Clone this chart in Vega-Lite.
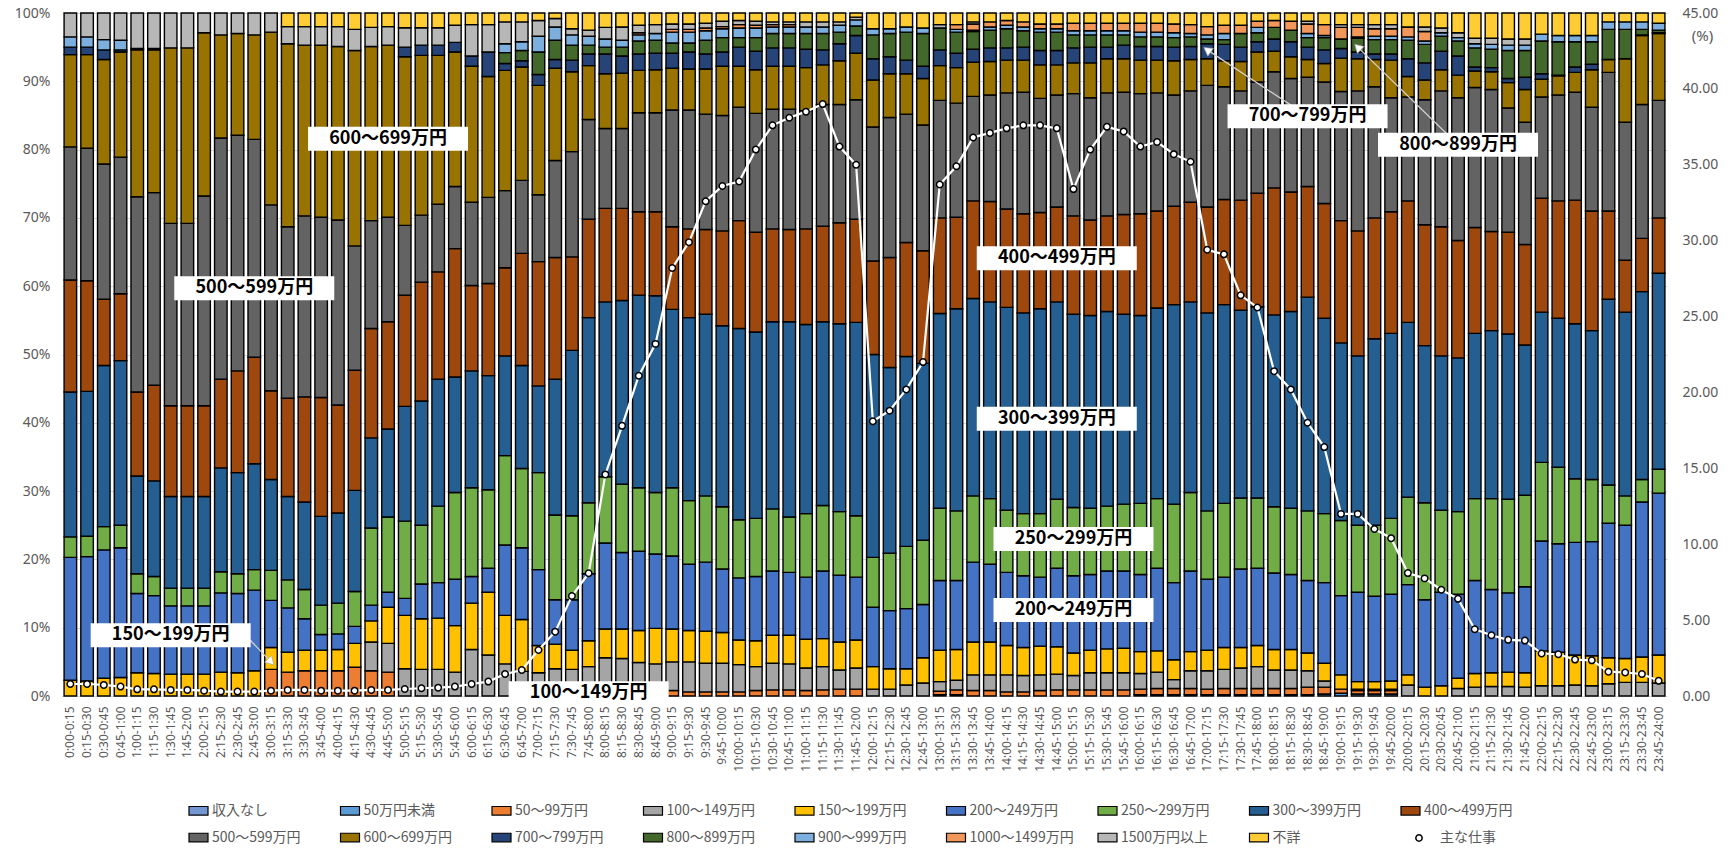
{
"$schema": "https://vega.github.io/schema/vega-lite/v6.json",
"autosize": "none",
"width": 1605,
"height": 683,
"padding": {"left": 62, "top": 13, "right": 63, "bottom": 152},
"background": "#ffffff",
"config": {"view": {"stroke": null}, "font": "Noto Sans"},
"datasets": {
"d": [
{"t":"0:00-0:15","m":0.79,"150～199万円":2.3,"200～249万円":18.0,"250～299万円":3.0,"300～399万円":21.2,"400～499万円":16.4,"500～599万円":19.5,"600～699万円":13.5,"700～799万円":1.1,"900～999万円":1.5,"1500万円以上":3.5},
{"t":"0:15-0:30","m":0.79,"150～199万円":2.2,"200～249万円":18.2,"250～299万円":3.0,"300～399万円":21.2,"400～499万円":16.2,"500～599万円":19.4,"600～699万円":13.7,"700～799万円":1.1,"900～999万円":1.5,"1500万円以上":3.5},
{"t":"0:30-0:45","m":0.73,"150～199万円":2.6,"200～249万円":18.8,"250～299万円":3.4,"300～399万円":23.6,"400～499万円":9.7,"500～599万円":19.8,"600～699万円":15.3,"700～799万円":1.4,"900～999万円":1.5,"1500万円以上":3.9},
{"t":"0:45-1:00","m":0.62,"150～199万円":2.7,"200～249万円":19.0,"250～299万円":3.3,"300～399万円":24.1,"400～499万円":9.8,"500～599万円":20.0,"600～699万円":15.4,"700～799万円":0.3,"900～999万円":1.4,"1500万円以上":4.0},
{"t":"1:00-1:15","m":0.44,"150～199万円":3.4,"200～249万円":11.6,"250～299万円":2.9,"300～399万円":14.3,"400～499万円":12.3,"500～599万円":28.6,"600～699万円":21.5,"700～799万円":0.2,"1500万円以上":5.2},
{"t":"1:15-1:30","m":0.44,"150～199万円":3.3,"200～249万円":11.4,"250～299万円":2.8,"300～399万円":14.0,"400～499万円":14.0,"500～599万円":28.2,"600～699万円":20.9,"700～799万円":0.2,"1500万円以上":5.2},
{"t":"1:30-1:45","m":0.40,"150～199万円":3.2,"200～249万円":10.0,"250～299万円":2.6,"300～399万円":13.4,"400～499万円":13.3,"500～599万円":26.7,"600～699万円":25.7,"1500万円以上":5.1},
{"t":"1:45-2:00","m":0.40,"150～199万円":3.2,"200～249万円":10.0,"250～299万円":2.6,"300～399万円":13.4,"400～499万円":13.3,"500～599万円":26.7,"600～699万円":25.7,"1500万円以上":5.1},
{"t":"2:00-2:15","m":0.35,"150～199万円":3.2,"200～249万円":10.0,"250～299万円":2.6,"300～399万円":13.4,"400～499万円":13.3,"500～599万円":30.7,"600～699万円":23.9,"1500万円以上":2.9},
{"t":"2:15-2:30","m":0.29,"150～199万円":3.5,"200～249万円":11.6,"250～299万円":3.1,"300～399万円":15.2,"400～499万円":13.0,"500～599万円":35.3,"600～699万円":15.1,"1500万円以上":3.2},
{"t":"2:30-2:45","m":0.29,"150～199万円":3.4,"200～249万円":11.6,"250～299万円":2.9,"300～399万円":14.8,"400～499万円":14.9,"500～599万円":34.5,"600～699万円":14.9,"1500万円以上":3.0},
{"t":"2:45-3:00","m":0.29,"150～199万円":3.7,"200～249万円":11.8,"250～299万円":3.0,"300～399万円":15.5,"400～499万円":15.6,"500～599万円":31.9,"600～699万円":15.3,"1500万円以上":3.2},
{"t":"3:00-3:15","m":0.35,"50～99万円":3.9,"150～199万円":3.2,"200～249万円":6.9,"250～299万円":4.4,"300～399万円":13.3,"400～499万円":13.0,"500～599万円":27.2,"600～699万円":25.3,"1500万円以上":2.8},
{"t":"3:15-3:30","m":0.40,"50～99万円":3.5,"150～199万円":2.9,"200～249万円":6.5,"250～299万円":4.1,"300～399万円":12.2,"400～499万円":14.4,"500～599万円":25.1,"600～699万円":26.8,"1500万円以上":2.5,"不詳":2.0},
{"t":"3:30-3:45","m":0.40,"50～99万円":3.7,"150～199万円":3.0,"200～249万円":4.6,"250～299万円":4.3,"300～399万円":12.8,"400～499万円":15.4,"500～599万円":26.5,"600～699万円":25.0,"1500万円以上":2.7,"不詳":2.0},
{"t":"3:45-4:00","m":0.35,"50～99万円":3.7,"150～199万円":3.0,"200～249万円":2.3,"250～299万円":4.3,"300～399万円":13.0,"400～499万円":17.4,"500～599万円":26.4,"600～699万円":25.2,"1500万円以上":2.7,"不詳":2.0},
{"t":"4:00-4:15","m":0.35,"50～99万円":3.7,"150～199万円":3.1,"200～249万円":2.3,"250～299万円":4.5,"300～399万円":13.2,"400～499万円":15.8,"500～599万円":27.1,"600～699万円":25.4,"1500万円以上":2.9,"不詳":2.0},
{"t":"4:15-4:30","m":0.35,"50～99万円":4.2,"150～199万円":3.5,"200～249万円":2.5,"250～299万円":5.1,"300～399万円":14.8,"400～499万円":17.6,"500～599万円":18.2,"600～699万円":28.6,"1500万円以上":3.1,"不詳":2.4},
{"t":"4:30-4:45","m":0.40,"50～99万円":3.7,"100～149万円":4.2,"150～199万円":3.1,"200～249万円":2.3,"250～299万円":11.3,"300～399万円":13.2,"400～499万円":16.0,"500～599万円":15.8,"600～699万円":25.5,"1500万円以上":2.8,"不詳":2.1},
{"t":"4:45-5:00","m":0.40,"50～99万円":3.5,"100～149万円":4.2,"150～199万円":5.3,"200～249万円":2.2,"250～299万円":11.0,"300～399万円":12.9,"400～499万円":15.7,"500～599万円":15.3,"600～699万円":25.2,"1500万円以上":2.7,"不詳":2.0},
{"t":"5:00-5:15","m":0.46,"100～149万円":4.0,"150～199万円":7.8,"200～249万円":2.5,"250～299万円":11.3,"300～399万円":16.8,"400～499万円":16.3,"500～599万円":10.2,"600～699万円":24.7,"700～799万円":1.4,"1500万円以上":2.85,"不詳":2.15},
{"t":"5:15-5:30","m":0.51,"100～149万円":3.9,"150～199万円":7.4,"200～249万円":5.1,"250～299万円":8.6,"300～399万円":18.2,"400～499万円":17.4,"500～599万円":9.8,"600～699万円":23.4,"700～799万円":1.5,"1500万円以上":2.55,"不詳":2.15},
{"t":"5:30-5:45","m":0.55,"100～149万円":3.9,"150～199万円":7.5,"200～249万円":5.2,"250～299万円":11.2,"300～399万円":18.6,"400～499万円":15.7,"500～599万円":9.9,"600～699万円":21.8,"700～799万円":1.5,"1500万円以上":2.55,"不詳":2.15},
{"t":"5:45-6:00","m":0.62,"100～149万円":3.5,"150～199万円":6.8,"200～249万円":6.8,"250～299万円":12.7,"300～399万円":16.9,"400～499万円":18.8,"500～599万円":9.1,"600～699万円":19.7,"700～799万円":1.4,"1500万円以上":2.5,"不詳":1.8},
{"t":"6:00-6:15","m":0.79,"100～149万円":6.8,"150～199万円":6.8,"200～249万円":3.9,"250～299万円":13.0,"300～399万円":17.1,"400～499万円":12.5,"500～599万円":12.2,"600～699万円":19.9,"700～799万円":1.5,"1500万円以上":4.6,"不詳":1.7},
{"t":"6:15-6:30","m":0.95,"100～149万円":6.0,"150～199万円":9.2,"200～249万円":3.5,"250～299万円":11.5,"300～399万円":16.7,"400～499万円":13.5,"500～599万円":12.6,"600～699万円":17.7,"700～799万円":3.6,"1500万円以上":4.0,"不詳":1.7},
{"t":"6:30-6:45","m":1.45,"100～149万円":4.7,"150～199万円":7.1,"200～249万円":10.3,"250～299万円":13.1,"300～399万円":14.6,"400～499万円":12.9,"500～599万円":11.3,"600～699万円":17.6,"700～799万円":1.0,"800～899万円":1.6,"900～999万円":1.3,"1500万円以上":3.2,"不詳":1.3},
{"t":"6:45-7:00","m":1.71,"100～149万円":3.6,"150～199万円":7.6,"200～249万円":10.5,"250～299万円":11.6,"300～399万円":15.1,"400～499万円":16.4,"500～599万円":10.7,"600～699万円":16.6,"700～799万円":0.9,"800～899万円":1.5,"900～999万円":1.3,"1500万円以上":2.9,"不詳":1.3},
{"t":"7:00-7:15","m":3.03,"100～149万円":3.4,"150～199万円":4.0,"200～249万円":11.1,"250～299万円":14.2,"300～399万円":12.7,"400～499万円":18.2,"500～599万円":9.8,"600～699万円":16.0,"700～799万円":1.6,"800～899万円":3.3,"900～999万円":2.3,"1500万円以上":2.3,"不詳":1.1},
{"t":"7:15-7:30","m":4.24,"100～149万円":4.0,"150～199万円":3.6,"200～249万円":6.5,"250～299万円":12.4,"300～399万円":19.9,"400～499万円":17.8,"500～599万円":14.2,"600～699万円":13.5,"700～799万円":1.3,"800～899万円":2.8,"900～999万円":1.95,"1500万円以上":1.25,"不詳":0.8},
{"t":"7:30-7:45","m":6.59,"100～149万円":3.9,"150～199万円":2.8,"200～249万円":7.4,"250～299万円":12.3,"300～399万円":24.2,"400～499万円":13.7,"500～599万円":15.4,"600～699万円":11.7,"700～799万円":1.7,"800～899万円":2.2,"900～999万円":1.5,"1500万円以上":0.9,"不詳":2.3},
{"t":"7:45-8:00","m":8.09,"100～149万円":4.3,"150～199万円":3.8,"200～249万円":9.8,"250～299万円":10.4,"300～399万円":27.1,"400～499万円":14.4,"500～599万円":14.6,"600～699万円":7.9,"700～799万円":1.7,"800～899万円":1.3,"900～999万円":1.3,"1500万円以上":0.9,"不詳":2.5},
{"t":"8:00-8:15","m":14.6,"100～149万円":5.6,"150～199万円":4.2,"200～249万円":12.6,"250～299万円":9.7,"300～399万円":25.6,"400～499万円":13.7,"500～599万円":11.7,"600～699万円":8.0,"700～799万円":2.9,"800～899万円":1.0,"900～999万円":1.2,"1500万円以上":1.7,"不詳":2.1},
{"t":"8:15-8:30","m":17.8,"100～149万円":5.5,"150～199万円":4.3,"200～249万円":11.2,"250～299万円":10.0,"300～399万円":26.9,"400～499万円":13.5,"500～599万円":11.7,"600～699万円":8.1,"700～799万円":2.5,"800～899万円":1.3,"900～999万円":1.0,"1500万円以上":1.95,"不詳":2.05},
{"t":"8:30-8:45","m":21.1,"100～149万円":4.9,"150～199万円":4.7,"200～249万円":11.6,"250～299万円":9.3,"300～399万円":28.2,"400～499万円":12.2,"500～599万円":14.5,"600～699万円":6.2,"700～799万円":2.4,"800～899万円":1.9,"900～999万円":0.9,"1000～1499万円":0.3,"1500万円以上":1.1,"不詳":1.8},
{"t":"8:45-9:00","m":23.2,"100～149万円":4.7,"150～199万円":5.2,"200～249万円":10.9,"250～299万円":9.0,"300～399万円":28.8,"400～499万円":12.3,"500～599万円":14.5,"600～699万円":6.3,"700～799万円":2.4,"800～899万円":1.9,"900～999万円":1.0,"1500万円以上":1.3,"不詳":1.7},
{"t":"9:00-9:15","m":28.2,"50～99万円":0.8,"100～149万円":4.2,"150～199万円":4.8,"200～249万円":10.7,"250～299万円":10.0,"300～399万円":26.1,"400～499万円":12.1,"500～599万円":17.1,"600～699万円":6.1,"700～799万円":2.2,"800～899万円":1.5,"900～999万円":1.6,"1000～1499万円":0.4,"1500万円以上":0.8,"不詳":1.6},
{"t":"9:15-9:30","m":29.9,"50～99万円":0.6,"100～149万円":4.4,"150～199万円":4.6,"200～249万円":9.7,"250～299万円":9.3,"300～399万円":26.8,"400～499万円":13.0,"500～599万円":17.4,"600～699万円":6.0,"700～799万円":2.5,"800～899万円":1.3,"900～999万円":1.6,"1000～1499万円":0.4,"1500万円以上":0.8,"不詳":1.6},
{"t":"9:30-9:45","m":32.6,"50～99万円":0.6,"100～149万円":4.2,"150～199万円":4.7,"200～249万円":10.1,"250～299万円":9.7,"300～399万円":26.6,"400～499万円":12.4,"500～599万円":16.9,"600～699万円":6.6,"700～799万円":2.2,"800～899万円":2.0,"900～999万円":1.4,"1000～1499万円":0.4,"1500万円以上":0.7,"不詳":1.5},
{"t":"9:45-10:00","m":33.6,"50～99万円":0.6,"100～149万円":4.2,"150～199万円":4.5,"200～249万円":9.3,"250～299万円":9.1,"300～399万円":26.5,"400～499万円":13.9,"500～599万円":16.9,"600～699万円":7.2,"700～799万円":2.1,"800～899万円":2.1,"900～999万円":1.3,"1000～1499万円":0.3,"1500万円以上":0.8,"不詳":1.2},
{"t":"10:00-10:15","m":33.9,"50～99万円":0.6,"100～149万円":4.0,"150～199万円":3.6,"200～249万円":9.1,"250～299万円":8.5,"300～399万円":28.0,"400～499万円":15.8,"500～599万円":16.6,"600～699万円":6.0,"700～799万円":2.8,"800～899万円":1.4,"900～999万円":1.4,"1000～1499万円":0.5,"1500万円以上":0.6,"不詳":1.1},
{"t":"10:15-10:30","m":36.0,"50～99万円":0.8,"100～149万円":3.5,"150～199万円":3.8,"200～249万円":9.4,"250～299万円":8.5,"300～399万円":27.3,"400～499万円":14.6,"500～599万円":17.4,"600～699万円":6.4,"700～799万円":2.7,"800～899万円":2.0,"900～999万円":1.4,"1000～1499万円":0.4,"1500万円以上":0.6,"不詳":1.2},
{"t":"10:30-10:45","m":37.6,"50～99万円":0.9,"100～149万円":3.9,"150～199万円":4.1,"200～249万円":9.4,"250～299万円":9.1,"300～399万円":27.4,"400～499万円":13.6,"500～599万円":17.5,"600～699万円":6.3,"700～799万円":2.7,"800～899万円":2.1,"900～999万円":0.95,"1000～1499万円":0.35,"1500万円以上":0.4,"不詳":1.3},
{"t":"10:45-11:00","m":38.1,"50～99万円":0.9,"100～149万円":3.8,"150～199万円":4.2,"200～249万円":9.2,"250～299万円":8.1,"300～399万円":28.6,"400～499万円":13.5,"500～599万円":17.6,"600～699万円":6.3,"700～799万円":2.7,"800～899万円":2.1,"900～999万円":0.95,"1000～1499万円":0.35,"1500万円以上":0.4,"不詳":1.3},
{"t":"11:00-11:15","m":38.5,"50～99万円":0.8,"100～149万円":3.3,"150～199万円":4.2,"200～249万円":9.1,"250～299万円":9.3,"300～399万円":27.7,"400～499万円":14.0,"500～599万円":17.3,"600～699万円":6.3,"700～799万円":2.7,"800～899万円":2.3,"900～999万円":0.95,"1500万円以上":0.75,"不詳":1.3},
{"t":"11:15-11:30","m":39.0,"50～99万円":0.9,"100～149万円":3.4,"150～199万円":4.1,"200～249万円":9.9,"250～299万円":9.6,"300～399万円":26.9,"400～499万円":14.0,"500～599万円":17.8,"600～699万円":5.8,"700～799万円":2.2,"800～899万円":2.4,"900～999万円":0.95,"1500万円以上":0.75,"不詳":1.3},
{"t":"11:30-11:45","m":36.2,"50～99万円":1.0,"100～149万円":2.8,"150～199万円":4.1,"200～249万円":9.8,"250～299万円":9.3,"300～399万円":27.5,"400～499万円":14.8,"500～599万円":17.3,"600～699万円":6.4,"700～799万円":2.5,"800～899万円":1.7,"900～999万円":1.0,"1500万円以上":0.5,"不詳":1.3},
{"t":"11:45-12:00","m":35.0,"50～99万円":1.0,"100～149万円":3.1,"150～199万円":4.1,"200～249万円":9.2,"250～299万円":9.0,"300～399万円":28.3,"400～499万円":15.1,"500～599万円":17.5,"600～699万円":6.8,"700～799万円":2.6,"800～899万円":1.4,"900～999万円":0.9,"1500万円以上":0.4,"不詳":0.6},
{"t":"12:00-12:15","m":18.1,"100～149万円":1.0,"150～199万円":3.3,"200～249万円":8.7,"250～299万円":7.3,"300～399万円":29.7,"400～499万円":13.7,"500～599万円":19.6,"600～699万円":6.9,"700～799万円":3.1,"800～899万円":3.5,"900～999万円":0.9,"不詳":2.3},
{"t":"12:15-12:30","m":18.8,"100～149万円":1.0,"150～199万円":3.0,"200～249万円":8.5,"250～299万円":8.4,"300～399万円":27.2,"400～499万円":16.1,"500～599万円":20.5,"600～699万円":6.4,"700～799万円":2.5,"800～899万円":3.4,"900～999万円":0.7,"不詳":2.3},
{"t":"12:30-12:45","m":20.2,"100～149万円":1.6,"150～199万円":2.4,"200～249万円":8.8,"250～299万円":9.1,"300～399万円":27.8,"400～499万円":16.7,"500～599万円":18.8,"600～699万円":5.9,"700～799万円":2.0,"800～899万円":4.1,"900～999万円":0.75,"不詳":2.05},
{"t":"12:45-13:00","m":22.0,"100～149万円":1.9,"150～199万円":3.7,"200～249万円":7.8,"250～299万円":9.4,"300～399万円":25.9,"400～499万円":16.5,"500～599万円":18.4,"600～699万円":6.8,"700～799万円":1.8,"800～899万円":4.8,"900～999万円":0.8,"不詳":2.2},
{"t":"13:00-13:15","m":33.7,"50万円未満":0.2,"50～99万円":0.5,"100～149万円":1.4,"150～199万円":4.6,"200～249万円":10.2,"250～299万円":10.6,"300～399万円":28.5,"400～499万円":14.0,"500～599万円":17.2,"600～699万円":5.1,"700～799万円":2.3,"800～899万円":3.2,"1500万円以上":0.5,"不詳":1.7},
{"t":"13:15-13:30","m":34.9,"50万円未満":0.2,"50～99万円":0.7,"100～149万円":1.4,"150～199万円":4.5,"200～249万円":10.1,"250～299万円":10.2,"300～399万円":29.6,"400～499万円":13.4,"500～599万円":16.7,"600～699万円":5.2,"700～799万円":2.1,"800～899万円":3.1,"900～999万円":0.4,"1000～1499万円":0.7,"不詳":1.7},
{"t":"13:30-13:45","m":36.8,"50～99万円":0.8,"100～149万円":2.3,"150～199万円":4.8,"200～249万円":11.7,"250～299万円":9.7,"300～399万円":28.9,"400～499万円":14.3,"500～599万円":15.3,"600～699万円":5.0,"700～799万円":1.9,"800～899万円":2.6,"900～999万円":0.2,"1000～1499万円":0.9,"1500万円以上":0.3,"不詳":1.3},
{"t":"13:45-14:00","m":37.1,"50～99万円":0.8,"100～149万円":2.3,"150～199万円":4.8,"200～249万円":11.4,"250～299万円":9.6,"300～399万円":28.8,"400～499万円":14.7,"500～599万円":15.6,"600～699万円":4.9,"700～799万円":2.0,"800～899万円":2.6,"900～999万円":0.45,"1000～1499万円":0.75,"不詳":1.3},
{"t":"14:00-14:15","m":37.4,"50～99万円":0.6,"100～149万円":2.5,"150～199万円":4.3,"200～249万円":10.7,"250～299万円":9.1,"300～399万円":29.7,"400～499万円":14.4,"500～599万円":17.0,"600～699万円":4.8,"700～799万円":1.8,"800～899万円":2.8,"900～999万円":0.5,"1000～1499万円":0.7,"不詳":1.1},
{"t":"14:15-14:30","m":37.6,"50～99万円":0.6,"100～149万円":2.4,"150～199万円":4.1,"200～249万円":10.5,"250～299万円":9.1,"300～399万円":29.4,"400～499万円":14.5,"500～599万円":17.8,"600～699万円":4.7,"700～799万円":1.9,"800～899万円":2.4,"900～999万円":0.55,"1000～1499万円":0.75,"不詳":1.3},
{"t":"14:30-14:45","m":37.6,"50～99万円":0.8,"100～149万円":2.3,"150～199万円":4.2,"200～249万円":10.1,"250～299万円":9.3,"300～399万円":30.0,"400～499万円":14.1,"500～599万円":16.7,"600～699万円":4.9,"700～799万円":2.1,"800～899万円":2.7,"900～999万円":0.5,"1000～1499万円":0.7,"不詳":1.6},
{"t":"14:45-15:00","m":37.4,"50～99万円":0.9,"100～149万円":2.3,"150～199万円":4.0,"200～249万円":11.5,"250～299万円":10.1,"300～399万円":28.9,"400～499万円":13.9,"500～599万円":16.4,"600～699万円":4.4,"700～799万円":2.1,"800～899万円":2.7,"900～999万円":0.5,"1000～1499万円":0.7,"不詳":1.6},
{"t":"15:00-15:15","m":33.4,"50～99万円":0.9,"100～149万円":2.1,"150～199万円":3.3,"200～249万円":11.3,"250～299万円":10.0,"300～399万円":28.3,"400～499万円":14.4,"500～599万円":17.9,"600～699万円":4.5,"700～799万円":2.2,"800～899万円":1.9,"900～999万円":0.6,"1000～1499万円":1.1,"不詳":1.5},
{"t":"15:15-15:30","m":36.0,"50～99万円":0.9,"100～149万円":2.5,"150～199万円":3.3,"200～249万円":11.1,"250～299万円":9.7,"300～399万円":28.2,"400～499万円":14.0,"500～599万円":17.9,"600～699万円":5.1,"700～799万円":2.3,"800～899万円":1.8,"900～999万円":0.6,"1000～1499万円":1.1,"不詳":1.5},
{"t":"15:30-15:45","m":37.5,"50～99万円":0.9,"100～149万円":2.5,"150～199万円":3.5,"200～249万円":11.4,"250～299万円":9.5,"300～399万円":28.5,"400～499万円":14.0,"500～599万円":18.0,"600～699万円":5.0,"700～799万円":1.7,"800～899万円":1.8,"900～999万円":0.6,"1000～1499万円":1.1,"不詳":1.5},
{"t":"15:45-16:00","m":37.2,"50～99万円":0.9,"100～149万円":2.5,"150～199万円":3.6,"200～249万円":11.3,"250～299万円":9.8,"300～399万円":27.8,"400～499万円":14.6,"500～599万円":17.9,"600～699万円":4.9,"700～799万円":2.0,"800～899万円":1.5,"900～999万円":0.6,"1000～1499万円":1.1,"不詳":1.5},
{"t":"16:00-16:15","m":36.2,"50万円未満":0.2,"50～99万円":0.8,"100～149万円":2.3,"150～199万円":3.2,"200～249万円":11.3,"250～299万円":10.4,"300～399万円":27.5,"400～499万円":14.9,"500～599万円":17.6,"600～699万円":4.9,"700～799万円":2.0,"800～899万円":1.4,"900～999万円":0.7,"1000～1499万円":1.3,"不詳":1.5},
{"t":"16:15-16:30","m":36.5,"50万円未満":0.2,"50～99万円":0.9,"100～149万円":2.4,"150～199万円":3.1,"200～249万円":12.1,"250～299万円":10.2,"300～399万円":27.9,"400～499万円":14.2,"500～599万円":17.3,"600～699万円":4.8,"700～799万円":2.0,"800～899万円":1.4,"900～999万円":0.7,"1000～1499万円":1.3,"不詳":1.5},
{"t":"16:30-16:45","m":35.7,"50万円未満":0.2,"50～99万円":0.9,"100～149万円":1.3,"150～199万円":2.9,"200～249万円":11.3,"250～299万円":11.5,"300～399万円":29.2,"400～499万円":14.4,"500～599万円":16.3,"600～699万円":5.0,"700～799万円":2.0,"800～899万円":1.4,"900～999万円":0.7,"1000～1499万円":1.3,"不詳":1.6},
{"t":"16:45-17:00","m":35.2,"50万円未満":0.2,"50～99万円":0.9,"100～149万円":2.6,"150～199万円":2.8,"200～249万円":11.8,"250～299万円":11.5,"300～399万円":27.9,"400～499万円":14.6,"500～599万円":16.3,"600～699万円":4.6,"700～799万円":1.9,"800～899万円":1.4,"900～999万円":0.5,"1000～1499万円":1.3,"不詳":1.7},
{"t":"17:00-17:15","m":29.4,"50万円未満":0.2,"50～99万円":0.8,"100～149万円":2.7,"150～199万円":3.0,"200～249万円":10.4,"250～299万円":10.0,"300～399万円":29.0,"400～499万円":15.5,"500～599万円":17.8,"600～699万円":3.9,"700～799万円":2.2,"800～899万円":0.7,"900～999万円":0.6,"1000～1499万円":1.2,"不詳":2.0},
{"t":"17:15-17:30","m":29.1,"50万円未満":0.2,"50～99万円":0.9,"100～149万円":2.8,"150～199万円":3.2,"200～249万円":10.3,"250～299万円":10.8,"300～399万円":29.1,"400～499万円":15.4,"500～599万円":16.5,"600～699万円":3.8,"700～799万円":2.4,"800～899万円":0.7,"900～999万円":0.9,"1000～1499万円":1.2,"不詳":1.8},
{"t":"17:30-17:45","m":26.4,"50万円未満":0.2,"50～99万円":0.9,"100～149万円":3.0,"150～199万円":3.0,"200～249万円":11.5,"250～299万円":10.4,"300～399万円":27.5,"400～499万円":16.1,"500～599万円":16.0,"600～699万円":4.3,"700～799万円":2.1,"800～899万円":2.0,"1000～1499万円":1.2,"不詳":1.8},
{"t":"17:45-18:00","m":25.6,"50万円未満":0.2,"50～99万円":0.9,"100～149万円":3.2,"150～199万円":3.1,"200～249万円":11.3,"250～299万円":10.3,"300～399万円":28.0,"400～499万円":16.6,"500～599万円":16.3,"600～699万円":4.4,"700～799万円":1.5,"800～899万円":1.3,"900～999万円":0.8,"1000～1499万円":0.9,"不詳":1.2},
{"t":"18:00-18:15","m":21.4,"50万円未満":0.2,"50～99万円":0.9,"100～149万円":2.7,"150～199万円":3.0,"200～249万円":11.2,"250～299万円":9.7,"300～399万円":28.1,"400～499万円":18.6,"500～599万円":17.0,"600～699万円":3.0,"700～799万円":1.8,"800～899万円":1.7,"1000～1499万円":1.0,"不詳":1.1},
{"t":"18:15-18:30","m":20.2,"50万円未満":0.2,"50～99万円":0.9,"100～149万円":2.7,"150～199万円":3.0,"200～249万円":11.0,"250～299万円":9.7,"300～399万円":28.8,"400～499万円":17.5,"500～599万円":16.6,"600～699万円":3.2,"700～799万円":2.2,"800～899万円":1.7,"1000～1499万円":1.3,"不詳":1.2},
{"t":"18:30-18:45","m":18.0,"50万円未満":0.2,"50～99万円":1.1,"100～149万円":2.4,"150～199万円":2.6,"200～249万円":10.6,"250～299万円":10.2,"300～399万円":31.3,"400～499万円":16.2,"500～599万円":16.0,"600～699万円":2.6,"700～799万円":1.8,"800～899万円":1.4,"900～999万円":0.6,"1000～1499万円":1.4,"1500万円以上":0.4,"不詳":1.2},
{"t":"18:45-19:00","m":16.4,"50万円未満":0.3,"50～99万円":1.0,"100～149万円":0.9,"150～199万円":2.6,"200～249万円":11.8,"250～299万円":10.1,"300～399万円":28.6,"400～499万円":16.8,"500～599万円":17.8,"600～699万円":2.7,"700～799万円":2.0,"800～899万円":1.8,"900～999万円":0.3,"1000～1499万円":1.6,"不詳":1.7},
{"t":"19:00-19:15","m":12.0,"50万円未満":0.4,"50～99万円":0.6,"150～199万円":2.1,"200～249万円":11.6,"250～299万円":11.0,"300～399万円":26.0,"400～499万円":17.9,"500～599万円":18.9,"600～699万円":4.9,"700～799万円":1.4,"800～899万円":1.4,"1000～1499万円":1.7,"1500万円以上":0.4,"不詳":1.7},
{"t":"19:15-19:30","m":12.0,"50万円未満":0.3,"50～99万円":0.5,"100～149万円":0.2,"150～199万円":1.1,"200～249万円":13.1,"250～299万円":9.8,"300～399万円":24.8,"400～499万円":18.3,"500～599万円":20.5,"600～699万円":4.7,"700～799万円":1.0,"800～899万円":2.0,"900～999万円":0.2,"1000～1499万円":1.4,"1500万円以上":0.4,"不詳":1.7},
{"t":"19:30-19:45","m":11.0,"50万円未満":0.3,"50～99万円":0.5,"100～149万円":0.2,"150～199万円":1.1,"200～249万円":12.5,"250～299万円":10.4,"300～399万円":27.3,"400～499万円":17.7,"500～599万円":19.2,"600～699万円":4.0,"700～799万円":0.8,"800～899万円":2.1,"900～999万円":0.5,"1000～1499万円":1.1,"1500万円以上":0.6,"不詳":1.7},
{"t":"19:45-20:00","m":10.4,"50万円未満":0.3,"50～99万円":0.5,"100～149万円":0.2,"150～199万円":1.2,"200～249万円":12.7,"250～299万円":11.1,"300～399万円":27.1,"400～499万円":17.8,"500～599万円":16.7,"600～699万円":5.5,"700～799万円":0.9,"800～899万円":2.1,"900～999万円":0.5,"1000～1499万円":1.1,"1500万円以上":0.6,"不詳":1.7},
{"t":"20:00-20:15","m":8.1,"100～149万円":1.6,"150～199万円":1.5,"200～249万円":13.2,"250～299万円":12.8,"300～399万円":25.6,"400～499万円":17.8,"500～599万円":15.2,"600～699万円":3.0,"700～799万円":2.6,"800～899万円":2.7,"900～999万円":0.5,"1000～1499万円":1.45,"不詳":2.05},
{"t":"20:15-20:30","m":7.75,"150～199万円":1.3,"200～249万円":12.8,"250～299万円":14.2,"300～399万円":23.0,"400～499万円":17.7,"500～599万円":18.3,"600～699万円":2.9,"700～799万円":2.5,"800～899万円":2.7,"900～999万円":0.5,"1000～1499万円":1.4,"1500万円以上":0.65,"不詳":2.05},
{"t":"20:30-20:45","m":7.0,"150～199万円":1.5,"200～249万円":13.7,"250～299万円":12.0,"300～399万円":22.6,"400～499万円":18.9,"500～599万円":19.9,"600～699万円":3.1,"700～799万円":2.7,"800～899万円":2.2,"900～999万円":0.5,"1500万円以上":0.7,"不詳":2.2},
{"t":"20:45-21:00","m":6.4,"100～149万円":1.1,"150～199万円":1.5,"200～249万円":12.3,"250～299万円":12.1,"300～399万円":22.5,"400～499万円":17.2,"500～599万円":20.9,"600～699万円":3.3,"700～799万円":2.8,"800～899万円":2.2,"900～999万円":0.5,"1500万円以上":0.7,"不詳":2.9},
{"t":"21:00-21:15","m":4.4,"100～149万円":1.3,"150～199万円":2.0,"200～249万円":13.6,"250～299万円":12.0,"300～399万円":24.2,"400～499万円":15.5,"500～599万円":20.5,"600～699万円":2.4,"700～799万円":0.6,"800～899万円":2.8,"900～999万円":0.6,"1500万円以上":0.8,"不詳":3.7},
{"t":"21:15-21:30","m":4.0,"100～149万円":1.4,"150～199万円":2.0,"200～249万円":12.2,"250～299万円":13.3,"300～399万円":24.6,"400～499万円":14.5,"500～599万円":20.8,"600～699万円":2.6,"700～799万円":0.6,"800～899万円":2.7,"900～999万円":0.7,"1500万円以上":0.9,"不詳":3.7},
{"t":"21:30-21:45","m":3.7,"100～149万円":1.4,"150～199万円":2.1,"200～249万円":11.6,"250～299万円":13.7,"300～399万円":24.2,"400～499万円":14.9,"500～599万円":18.2,"600～699万円":3.7,"700～799万円":0.6,"800～899万円":4.1,"900～999万円":0.8,"1500万円以上":0.9,"不詳":3.8},
{"t":"21:45-22:00","m":3.65,"100～149万円":1.3,"150～199万円":2.1,"200～249万円":12.6,"250～299万円":13.4,"300～399万円":22.0,"400～499万円":14.7,"500～599万円":17.9,"600～699万円":4.8,"700～799万円":1.8,"800～899万円":3.9,"900～999万円":0.8,"1500万円以上":0.9,"不詳":3.8},
{"t":"22:00-22:15","m":2.8,"100～149万円":1.5,"150～199万円":5.1,"200～249万円":16.1,"250～299万円":11.5,"300～399万円":22.0,"400～499万円":16.7,"500～599万円":14.8,"600～699万円":2.6,"700～799万円":0.8,"800～899万円":4.8,"900～999万円":1.0,"不詳":3.1},
{"t":"22:15-22:30","m":2.75,"100～149万円":1.5,"150～199万円":4.9,"200～249万円":15.9,"250～299万円":11.2,"300～399万円":21.8,"400～499万円":17.2,"500～599万円":15.5,"600～699万円":2.8,"700～799万円":0.1,"800～899万円":4.9,"900～999万円":0.9,"不詳":3.3},
{"t":"22:30-22:45","m":2.4,"100～149万円":1.6,"150～199万円":4.4,"200～249万円":16.5,"250～299万円":9.3,"300～399万円":22.7,"400～499万円":18.1,"500～599万円":15.8,"600～699万円":2.9,"700～799万円":0.8,"800～899万円":3.7,"900～999万円":0.9,"不詳":3.3},
{"t":"22:45-23:00","m":2.35,"100～149万円":1.5,"150～199万円":4.4,"200～249万円":16.7,"250～299万円":9.1,"300～399万円":21.8,"400～499万円":17.5,"500～599万円":15.2,"600～699万円":5.5,"700～799万円":0.8,"800～899万円":3.3,"900～999万円":0.9,"不詳":3.3},
{"t":"23:00-23:15","m":1.6,"100～149万円":1.8,"150～199万円":3.8,"200～249万円":19.7,"250～299万円":5.6,"300～399万円":27.2,"400～499万円":12.9,"500～599万円":20.3,"600～699万円":1.9,"800～899万円":4.4,"900～999万円":1.1,"不詳":1.3},
{"t":"23:15-23:30","m":1.55,"100～149万円":2.0,"150～199万円":3.5,"200～249万円":19.5,"250～299万円":4.3,"300～399万円":26.9,"400～499万円":7.6,"500～599万円":20.2,"600～699万円":9.3,"800～899万円":4.3,"900～999万円":1.1,"不詳":1.3},
{"t":"23:30-23:45","m":1.45,"100～149万円":2.0,"150～199万円":3.7,"200～249万円":22.7,"250～299万円":3.3,"300～399万円":27.5,"400～499万円":7.8,"500～599万円":19.6,"600～699万円":10.1,"700～799万円":0.1,"800～899万円":0.8,"900～999万円":1.1,"不詳":1.3},
{"t":"23:45-24:00","m":1.0,"100～149万円":1.9,"150～199万円":4.1,"200～249万円":23.7,"250～299万円":3.5,"300～399万円":28.7,"400～499万円":8.1,"500～599万円":17.2,"600～699万円":9.8,"700～799万円":0.1,"800～899万円":0.4,"900～999万円":1.0,"不詳":1.5}
],
"ann": [
{"t":"4:45-5:00","y":81.6,"label":"600～699万円"},
{"t":"2:45-3:00","y":59.7,"label":"500～599万円"},
{"t":"1:30-1:45","y":8.9,"label":"150～199万円"},
{"t":"7:45-8:00","y":0.4,"label":"100～149万円"},
{"t":"14:45-15:00","y":64.1,"label":"400～499万円"},
{"t":"14:45-15:00","y":40.6,"label":"300～399万円"},
{"t":"15:00-15:15","y":23.0,"label":"250～299万円"},
{"t":"15:00-15:15","y":12.6,"label":"200～249万円"},
{"t":"18:30-18:45","y":84.9,"label":"700～799万円"},
{"t":"20:45-21:00","y":80.7,"label":"800～899万円"}
],
"arr": [
{"t":"2:30-2:45","y":10.1,"t2":"3:00-3:15","y2":5.0},
{"t":"18:30-18:45","y":84.9,"t2":"17:00-17:15","y2":94.6},
{"t":"20:45-21:00","y":80.7,"t2":"19:15-19:30","y2":95.0}
]
},
"encoding": {
"x": {"field": "t", "type": "nominal",
 "scale": {"paddingInner": 0.25, "paddingOuter": 0.125, "domain": ["0:00-0:15","0:15-0:30","0:30-0:45","0:45-1:00","1:00-1:15","1:15-1:30","1:30-1:45","1:45-2:00","2:00-2:15","2:15-2:30","2:30-2:45","2:45-3:00","3:00-3:15","3:15-3:30","3:30-3:45","3:45-4:00","4:00-4:15","4:15-4:30","4:30-4:45","4:45-5:00","5:00-5:15","5:15-5:30","5:30-5:45","5:45-6:00","6:00-6:15","6:15-6:30","6:30-6:45","6:45-7:00","7:00-7:15","7:15-7:30","7:30-7:45","7:45-8:00","8:00-8:15","8:15-8:30","8:30-8:45","8:45-9:00","9:00-9:15","9:15-9:30","9:30-9:45","9:45-10:00","10:00-10:15","10:15-10:30","10:30-10:45","10:45-11:00","11:00-11:15","11:15-11:30","11:30-11:45","11:45-12:00","12:00-12:15","12:15-12:30","12:30-12:45","12:45-13:00","13:00-13:15","13:15-13:30","13:30-13:45","13:45-14:00","14:00-14:15","14:15-14:30","14:30-14:45","14:45-15:00","15:00-15:15","15:15-15:30","15:30-15:45","15:45-16:00","16:00-16:15","16:15-16:30","16:30-16:45","16:45-17:00","17:00-17:15","17:15-17:30","17:30-17:45","17:45-18:00","18:00-18:15","18:15-18:30","18:30-18:45","18:45-19:00","19:00-19:15","19:15-19:30","19:30-19:45","19:45-20:00","20:00-20:15","20:15-20:30","20:30-20:45","20:45-21:00","21:00-21:15","21:15-21:30","21:30-21:45","21:45-22:00","22:00-22:15","22:15-22:30","22:30-22:45","22:45-23:00","23:00-23:15","23:15-23:30","23:30-23:45","23:45-24:00"]},
 "axis": {"title": null, "labelAngle": -90, "labelFont": "Noto Sans", "labelFontSize": 12, "labelColor": "#595959", "ticks": false, "domainColor": "#d9d9d9", "domainWidth": 1, "labelPadding": 10, "grid": false, "labelOverlap": false}}
},
"layer": [
{
 "data": {"name": "d"},
 "transform": [
  {"fold": ["収入なし","50万円未満","50～99万円","100～149万円","150～199万円","200～249万円","250～299万円","300～399万円","400～499万円","500～599万円","600～699万円","700～799万円","800～899万円","900～999万円","1000～1499万円","1500万円以上","不詳"], "as": ["k", "v"]},
  {"filter": "datum.v > 0"},
  {"calculate": "indexof(['収入なし','50万円未満','50～99万円','100～149万円','150～199万円','200～249万円','250～299万円','300～399万円','400～499万円','500～599万円','600～699万円','700～799万円','800～899万円','900～999万円','1000～1499万円','1500万円以上','不詳'], datum.k)", "as": "o"}
 ],
 "mark": {"type": "bar", "stroke": "#000000", "strokeWidth": 1.4},
 "encoding": {
  "y": {"field": "v", "type": "quantitative", "stack": "normalize",
   "scale": {"domain": [0, 1], "nice": false},
   "axis": {"orient": "left", "title": null, "format": ".0%", "values": [0,0.1,0.2,0.3,0.4,0.5,0.6,0.7,0.8,0.9,1], "domain": false, "ticks": false, "labelFont": "Noto Sans", "labelFontSize": 14, "labelColor": "#595959", "labelPadding": 12, "grid": true, "gridColor": "#d9d9d9", "gridWidth": 1}},
  "color": {"field": "k", "type": "nominal",
   "scale": {"domain": ["収入なし","50万円未満","50～99万円","100～149万円","150～199万円","200～249万円","250～299万円","300～399万円","400～499万円","500～599万円","600～699万円","700～799万円","800～899万円","900～999万円","1000～1499万円","1500万円以上","不詳"],
    "range": ["#7496D2","#5B9BD5","#ED7D31","#A5A5A5","#FFC000","#4472C4","#70AD47","#255E91","#9E480E","#636363","#997300","#264478","#43682B","#7CAFDD","#F1975A","#B7B7B7","#FFCD33"]},
   "legend": {"orient": "none", "legendX": 126, "legendY": 787, "direction": "horizontal", "columns": 9, "title": null,
    "symbolType": "M-1,-0.45L1,-0.45L1,0.45L-1,0.45Z", "symbolSize": 361, "symbolStrokeColor": "#000000", "symbolStrokeWidth": 1.2,
    "labelFont": "Noto Sans CJK JP", "labelFontSize": 14, "labelColor": "#595959", "labelOffset": 3, "columnPadding": 20.5, "rowPadding": 9,
    "gridAlign": "all", "labelLimit": 300, "padding": 0}},
  "order": {"field": "o", "type": "quantitative", "sort": "ascending"}
 }
},
{
 "data": {"name": "d"},
 "mark": {"type": "line", "color": "#ffffff", "strokeWidth": 2.2},
 "encoding": {
  "y": {"field": "m", "type": "quantitative", "scale": {"domain": [0, 45], "nice": false},
   "axis": {"orient": "right", "values": [0,5,10,15,20,25,30,35,40,45], "format": ".2f", "title": "(%)", "titleAngle": 0, "titleX": 35, "titleY": 22, "titleAlign": "center", "titleBaseline": "middle", "titleFont": "Noto Sans", "titleFontSize": 15, "titleFontWeight": "normal", "titleColor": "#595959", "domain": false, "ticks": false, "grid": false, "labelFont": "Noto Sans", "labelFontSize": 14, "labelColor": "#595959", "labelPadding": 15}}
 }
},
{
 "data": {"name": "d"},
 "mark": {"type": "point", "shape": "circle", "filled": true, "fill": "#ffffff", "strokeWidth": 1.5, "size": 42, "opacity": 1},
 "encoding": {
  "y": {"field": "m", "type": "quantitative", "scale": {"domain": [0, 45], "nice": false}, "axis": null},
  "stroke": {"datum": "主な仕事", "type": "nominal", "scale": {"range": ["#000000"]},
   "legend": {"orient": "none", "legendX": 1350, "legendY": 818, "title": null, "symbolType": "circle", "symbolFillColor": "#ffffff", "symbolStrokeWidth": 1.5, "symbolSize": 40, "labelFont": "Noto Sans CJK JP", "labelFontSize": 14, "labelColor": "#595959", "labelOffset": 14, "padding": 0}}
 }
},
{
 "data": {"name": "arr"},
 "mark": {"type": "rule", "color": "#d0d0d0", "strokeWidth": 1.3},
 "encoding": {
  "x2": {"field": "t2"},
  "y": {"field": "y", "type": "quantitative", "scale": {"domain": [0, 100], "nice": false}, "axis": null},
  "y2": {"field": "y2"}
 }
},
{
 "data": {"values": [{"t": "3:00-3:15", "y": 5.0}]},
 "mark": {"type": "point", "shape": "triangle-up", "angle": 136, "size": 90, "filled": true, "fill": "#ffffff", "stroke": "#a0a0a0", "strokeWidth": 0.6, "opacity": 1},
 "encoding": {"y": {"field": "y", "type": "quantitative", "scale": {"domain": [0, 100], "nice": false}, "axis": null}}
},
{
 "data": {"values": [{"t": "17:00-17:15", "y": 94.6}]},
 "mark": {"type": "point", "shape": "triangle-up", "angle": 306, "size": 90, "filled": true, "fill": "#ffffff", "stroke": "#a0a0a0", "strokeWidth": 0.6, "opacity": 1},
 "encoding": {"y": {"field": "y", "type": "quantitative", "scale": {"domain": [0, 100], "nice": false}, "axis": null}}
},
{
 "data": {"values": [{"t": "19:15-19:30", "y": 95.0}]},
 "mark": {"type": "point", "shape": "triangle-up", "angle": 314, "size": 90, "filled": true, "fill": "#ffffff", "stroke": "#a0a0a0", "strokeWidth": 0.6, "opacity": 1},
 "encoding": {"y": {"field": "y", "type": "quantitative", "scale": {"domain": [0, 100], "nice": false}, "axis": null}}
},
{
 "data": {"name": "ann"},
 "mark": {"type": "point", "shape": "M-1,-0.15L1,-0.15L1,0.15L-1,0.15Z", "size": 25600, "filled": true, "fill": "#ffffff", "opacity": 1, "strokeWidth": 0},
 "encoding": {"y": {"field": "y", "type": "quantitative", "scale": {"domain": [0, 100], "nice": false}, "axis": null}}
},
{
 "data": {"name": "ann"},
 "mark": {"type": "text", "font": "Noto Sans CJK JP", "fontSize": 18, "fontWeight": "bold", "color": "#000000", "align": "center", "baseline": "middle"},
 "encoding": {
  "y": {"field": "y", "type": "quantitative", "scale": {"domain": [0, 100], "nice": false}, "axis": null},
  "text": {"field": "label"}
 }
}
],
"resolve": {"scale": {"y": "independent"}, "axis": {"y": "independent"}}
}
